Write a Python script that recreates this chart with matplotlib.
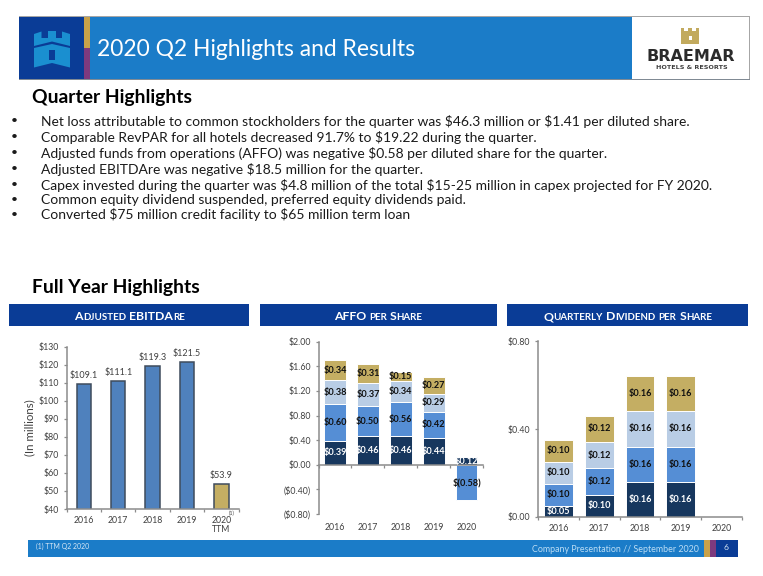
import matplotlib
matplotlib.use("Agg")
import matplotlib.pyplot as plt
from matplotlib.patches import Rectangle, Polygon

W, H = 763, 576
FONT = "Lato"
plt.rcParams["font.family"] = [FONT, "DejaVu Sans"]
plt.rcParams["text.parse_math"] = False

TITLE = "2020 Q2 Highlights and Results"
HEAD1 = "Quarter Highlights"
HEAD2 = "Full Year Highlights"
BULLETS = [
    "Net loss attributable to common stockholders for the quarter was $46.3 million or $1.41 per diluted share.",
    "Comparable RevPAR for all hotels decreased 91.7% to $19.22 during the quarter.",
    "Adjusted funds from operations (AFFO) was negative $0.58 per diluted share for the quarter.",
    "Adjusted EBITDAre was negative $18.5 million for the quarter.",
    "Capex invested during the quarter was $4.8 million of the total $15-25 million in capex projected for FY 2020.",
    "Common equity dividend suspended, preferred equity dividends paid.",
    "Converted $75 million credit facility to $65 million term loan",
]

EBITDA_YEARS = ["2016", "2017", "2018", "2019", "2020\nTTM"]
EBITDA_VALUES = [109.1, 111.1, 119.3, 121.5, 53.9]
EBITDA_TICKS = [40, 50, 60, 70, 80, 90, 100, 110, 120, 130]

YEARS = ["2016", "2017", "2018", "2019", "2020"]
AFFO_Q1 = [0.39, 0.46, 0.46, 0.44, 0.12]
AFFO_Q2 = [0.60, 0.50, 0.56, 0.42, -0.58]
AFFO_Q3 = [0.38, 0.37, 0.34, 0.29, None]
AFFO_Q4 = [0.34, 0.31, 0.15, 0.27, None]
AFFO_TICKS = [-0.8, -0.4, 0.0, 0.4, 0.8, 1.2, 1.6, 2.0]
AFFO_TICK_LABELS = ["($0.80)", "($0.40)", "$0.00", "$0.40", "$0.80", "$1.20", "$1.60", "$2.00"]

DIV_Q1 = [0.05, 0.10, 0.16, 0.16, None]
DIV_Q2 = [0.10, 0.12, 0.16, 0.16, None]
DIV_Q3 = [0.10, 0.12, 0.16, 0.16, None]
DIV_Q4 = [0.10, 0.12, 0.16, 0.16, None]
DIV_TICKS = [0.0, 0.4, 0.8]

NAVY = "#0A3C96"
BLUE = "#1B7CC8"
GOLD = "#C9A24A"
PURPLE = "#7E3A7E"
ICON = "#1A8FD0"
S1, S2, S3, S4 = "#17375E", "#558ED5", "#B9CDE5", "#C4AE63"
AX = "#8C8C8C"
TXT = "#404040"

fig = plt.figure(figsize=(W / 100, H / 100), dpi=100)
bg = fig.add_axes([0, 0, 1, 1])
bg.set_xlim(0, W)
bg.set_ylim(H, 0)
bg.axis("off")


def rect(x0, y0, x1, y1, c, **kw):
    bg.add_patch(Rectangle((x0, y0), x1 - x0, y1 - y0, facecolor=c, edgecolor="none", **kw))


def px(s):
    return s * 0.72


def add_axes(x0, y_top, x1, y_bot):
    ax = fig.add_axes([x0 / W, 1 - y_bot / H, (x1 - x0) / W, (y_bot - y_top) / H])
    ax.patch.set_alpha(0)
    ax.spines["top"].set_visible(False)
    ax.spines["right"].set_visible(False)
    ax.spines["left"].set_color(AX)
    ax.spines["bottom"].set_color(AX)
    ax.spines["left"].set_linewidth(1.1)
    ax.spines["bottom"].set_linewidth(1.1)
    return ax


def small_caps(x_center, y, text, big, small):
    runs = []
    cur = ""
    for ch in text:
        is_low = ch.islower()
        if cur and cur[-1].islower() != is_low:
            runs.append(cur)
            cur = ""
        cur += ch
    runs.append(cur)
    r = fig.canvas.get_renderer()
    items, total = [], 0
    for run in runs:
        low = run[0].islower()
        t = bg.text(0, y, run.upper(), color="white", fontweight="bold",
                    fontsize=px(small if low else big), va="baseline", ha="left")
        w = t.get_window_extent(r).width
        items.append((t, w))
        total += w
    x = x_center - total / 2
    for t, w in items:
        t.set_x(x)
        x += w


# header band
rect(19, 17, 84, 79, NAVY)
rect(84, 17, 89.5, 48, GOLD)
rect(84, 48, 89.5, 79, PURPLE)
rect(89.5, 17, 632, 79, BLUE)
rect(19, 16.2, 750, 17.2, "#A6A6A6")
rect(19, 78.8, 750, 79.8, "#808A94")
rect(749, 17, 750, 79, "#A6A6A6")

# tower emblem
bg.add_patch(Polygon([(34, 46), (34, 34), (41.5, 31.5), (41.5, 38), (48, 38), (48, 31), (56, 31), (56, 38),
                      (62, 38), (62, 31.5), (70, 34), (70, 46), (52, 41.5)],
                     closed=True, facecolor=ICON, edgecolor="none"))
bg.add_patch(Polygon([(34, 48), (52, 44), (70, 48), (70, 67.5), (52, 63), (34, 67.5)], closed=True,
                     facecolor=ICON, edgecolor="none"))
rect(49, 50, 55, 60, NAVY)

# logo
lx = 690
LG = "#C2AA5E"
bg.add_patch(Polygon([(lx - 9, 38), (lx - 9, 28), (lx - 6, 28), (lx - 6, 31), (lx - 2, 31), (lx - 2, 28),
                      (lx + 2, 28), (lx + 2, 31), (lx + 6, 31), (lx + 6, 28), (lx + 9, 28), (lx + 9, 38)],
                     closed=True, facecolor=LG, edgecolor="none"))
rect(lx - 9, 36, lx + 9, 43.5, LG)
rect(lx - 1.5, 35.5, lx + 1.5, 39.5, "white")
bg.text(lx + 1, 56.5, "BRAEMAR", ha="center", va="center", color="#2B2B2B", fontweight="bold",
        fontsize=px(16), fontfamily=["DejaVu Sans"])
bg.text(lx + 2, 67.3, "HOTELS & RESORTS", ha="center", va="center", color="#404040", fontweight="bold",
        fontsize=px(6.4), fontfamily=["DejaVu Sans"])

bg.text(97, 50, TITLE, color="white", fontsize=px(22.8), va="center", ha="left")
bg.text(32, 97, HEAD1, color="black", fontsize=px(19.3), fontweight="bold", va="center", ha="left")
bg.text(32, 287, HEAD2, color="black", fontsize=px(19.3), fontweight="bold", va="center", ha="left")

for yy, line in zip([121, 137, 153, 169, 185, 199.5, 214.5], BULLETS):
    bg.text(14, yy, "\u2022", color="#1a1a1a", fontsize=px(12), va="center", ha="center")
    bg.text(41, yy, line, color="#1a1a1a", fontsize=px(13.9), va="center", ha="left")

# section bars
for x0, x1, label, xc in [(9, 249, "Adjusted EBITDAre", 129.5), (260, 497, "AFFO per Share", 378),
                          (507, 748, "Quarterly Dividend per Share", 628)]:
    rect(x0, 304, x1, 325.5, NAVY)
    small_caps(xc, 320, label, 12.3, 9.8)

# footer
rect(28, 539.5, 704, 557, BLUE)
rect(704, 539.5, 710, 557, GOLD)
rect(710, 539.5, 716, 557, PURPLE)
rect(716, 539.5, 738, 557, NAVY)
bg.text(36, 546, "(1) TTM Q2 2020", color="#D5E6F5", fontsize=px(6.9), va="center", ha="left")
bg.text(699, 549, "Company Presentation // September 2020", color="#BBDDF5", fontsize=px(8.9), va="center", ha="right")
bg.text(726, 548, "6", color="#D5E6F5", fontsize=px(8.5), va="center", ha="center")

TICK = px(8.8)
LAB = px(9)

# --- EBITDA ---
ax = add_axes(66.7, 346.7, 238.5, 509)
pos = list(range(5))
cols = ["#4F81BD"] * 4 + ["#C4AE63"]
bars = ax.bar(pos, EBITDA_VALUES, width=0.42, color=cols, edgecolor="#3F4C5C", linewidth=1.1)
ax.set_xlim(-0.5, 4.5)
ax.set_ylim(40, 130)
ax.set_yticks(EBITDA_TICKS)
ax.set_yticklabels([f"${v}" for v in EBITDA_TICKS], fontsize=TICK, color=TXT)
ax.set_xticks([-0.5, 0.5, 1.5, 2.5, 3.5, 4.5])
ax.set_xticklabels([])
ax.set_xticks(pos, minor=True)
ax.set_xticklabels(EBITDA_YEARS, minor=True, fontsize=TICK, color=TXT, linespacing=1.0)
ax.tick_params(axis="x", which="minor", length=0, pad=5)
ax.tick_params(axis="both", which="major", length=2.5, color=AX, width=0.9, pad=3)
for p, v in zip(pos, EBITDA_VALUES):
    ax.annotate(f"${v:.1f}", (p, v), xytext=(0, 8.5 * 0.72), textcoords="offset points",
                ha="center", va="center", fontsize=LAB, color=TXT)
bg.text(29.5, 428, "(In millions)", rotation=90, color=TXT, fontsize=px(11.5), va="center", ha="center")
bg.text(232, 513, "(1)", color=TXT, fontsize=px(5.5), va="center", ha="center")


def seg_label(a, x, y, v, color, size):
    txt = f"$({abs(v):.2f})" if v < 0 else f"${v:.2f}"
    a.text(x, y, txt, ha="center", va="center", fontsize=size, color=color, fontweight="bold")


# --- AFFO ---
ax = add_axes(318.5, 341.7, 483, 514)
ax.set_xlim(-0.5, 4.5)
ax.set_ylim(-0.8, 2.0)
bottom = [0.0] * 5
for series, c, tc in [(AFFO_Q1, S1, "white"), (AFFO_Q2, S2, "#111111"), (AFFO_Q3, S3, "#111111"), (AFFO_Q4, S4, "#111111")]:
    for i, v in enumerate(series):
        if v is None:
            continue
        b = bottom[i] if v > 0 else 0.0
        ax.bar(i, v, bottom=b, width=0.66, color=c, edgecolor="white", linewidth=0.7)
        seg_label(ax, i, b + v / 2, v, "#111111" if v < 0 else tc, px(9.2))
        if v > 0:
            bottom[i] += v
ax.set_yticks(AFFO_TICKS)
ax.set_yticklabels(AFFO_TICK_LABELS, fontsize=TICK, color=TXT)
ax.spines["bottom"].set_position(("data", 0))
ax.set_xticks([-0.5, 0.5, 1.5, 2.5, 3.5, 4.5])
ax.set_xticklabels([])
ax.set_xticks(range(5), minor=True)
ax.set_xticklabels(YEARS, minor=True, fontsize=TICK, color=TXT)
ax.tick_params(axis="x", which="minor", length=0, pad=3.5 + 53 * 0.72)
ax.tick_params(axis="both", which="major", length=2.5, color=AX, width=0.9, pad=3)

# --- Dividend ---
ax = add_axes(538, 341.3, 742, 516.7)
ax.set_xlim(-0.5, 4.5)
ax.set_ylim(0, 0.8)
bottom = [0.0] * 5
for series, c, tc in [(DIV_Q1, S1, "white"), (DIV_Q2, S2, "#111111"), (DIV_Q3, S3, "#111111"), (DIV_Q4, S4, "#111111")]:
    for i, v in enumerate(series):
        if v is None:
            continue
        ax.bar(i, v, bottom=bottom[i], width=0.71, color=c, edgecolor="white", linewidth=0.7)
        seg_label(ax, i, bottom[i] + v / 2, v, tc, px(9.2))
        bottom[i] += v
ax.set_yticks(DIV_TICKS)
ax.set_yticklabels([f"${v:.2f}" for v in DIV_TICKS], fontsize=TICK, color=TXT)
ax.set_xticks([-0.5, 0.5, 1.5, 2.5, 3.5, 4.5])
ax.set_xticklabels([])
ax.set_xticks(range(5), minor=True)
ax.set_xticklabels(YEARS, minor=True, fontsize=TICK, color=TXT)
ax.tick_params(axis="x", which="minor", length=0, pad=5)
ax.tick_params(axis="both", which="major", length=2.5, color=AX, width=0.9, pad=3)

fig.savefig("out.png", dpi=100)
